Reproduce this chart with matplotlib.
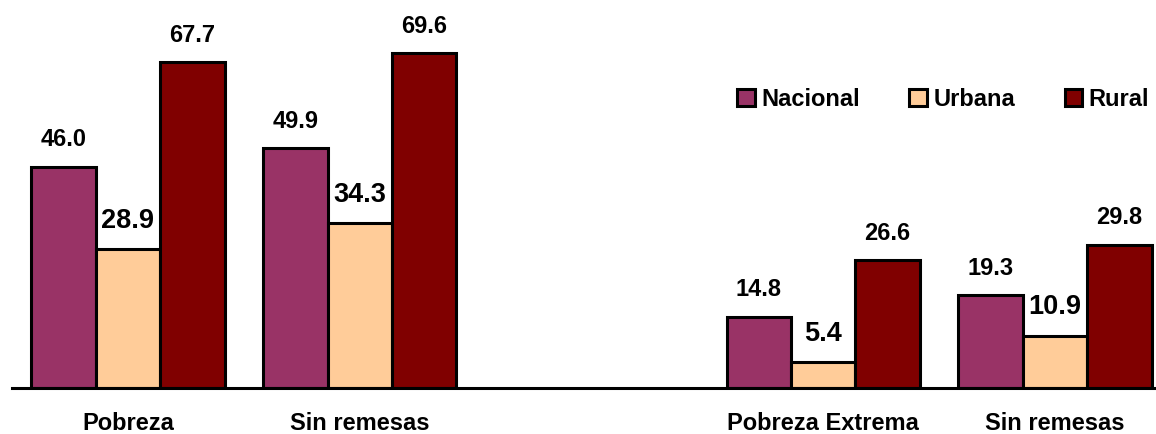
import numpy as np
import matplotlib
matplotlib.use("Agg")
import matplotlib.pyplot as plt
from matplotlib.patches import Patch

plt.rcParams['font.family'] = ['Liberation Sans', 'DejaVu Sans']
plt.rcParams['font.weight'] = 'bold'

# slot 2 is left empty to separate the two blocks
categories = ["Pobreza", "Sin remesas", "", "Pobreza Extrema", "Sin remesas"]
nacional = [46.0, 49.9, np.nan, 14.8, 19.3]
urbana = [28.9, 34.3, np.nan, 5.4, 10.9]
rural = [67.7, 69.6, np.nan, 26.6, 29.8]

series = [
    ("Nacional", nacional, "#993366", 17),
    ("Urbana", urbana, "#FFCC99", 19.5),
    ("Rural", rural, "#800000", 17),
]

fig = plt.figure(figsize=(11.56, 4.34), dpi=100)
ax = fig.add_axes([12 / 1156, 46 / 434, 1144 / 1156, 388 / 434])

x = np.arange(len(categories))
width = 0.278

for k, (name, vals, color, fs) in enumerate(series):
    pos = x + (k - 1) * width
    vals = np.array(vals)
    ok = ~np.isnan(vals)
    ax.bar(pos[ok], vals[ok], width=width, color=color, edgecolor="black",
           linewidth=2.2, zorder=2)
    for p, v in zip(pos[ok], vals[ok]):
        ax.annotate(f"{v:.1f}", (p, v), xytext=(0, 11), textcoords="offset points",
                    ha="center", va="bottom", fontsize=fs, fontweight="bold")

ax.set_xlim(-0.5005, 4.436)
ax.set_ylim(0, 80.6)

for s in ["top", "right", "left"]:
    ax.spines[s].set_visible(False)
ax.spines["bottom"].set_linewidth(2.2)
ax.spines["bottom"].set_zorder(3)
ax.set_yticks([])
ax.set_xticks(x)
ax.set_xticklabels(categories, fontsize=17, fontweight="bold")
ax.tick_params(axis="x", length=0, pad=17)

handles = [Patch(facecolor=c, edgecolor="black", linewidth=2.2, label=n)
           for n, _, c, _ in series]
fig.legend(handles=handles, loc="center left", bbox_to_anchor=(737 / 1156, 1 - 99 / 434),
           ncol=3, frameon=False, fontsize=17, handlelength=0.75, handleheight=0.75,
           handletextpad=0.27, columnspacing=2.1, borderpad=0, borderaxespad=0,
           prop={"weight": "bold", "size": 17})

fig.savefig("out.png", dpi=100)
